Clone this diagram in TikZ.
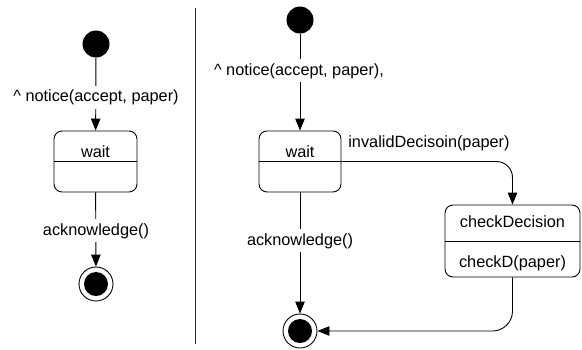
\documentclass[tikz,border=0pt]{standalone}
\usepackage{fontspec}
\setmainfont{Liberation Sans}
\usetikzlibrary{arrows.meta}
\begin{document}
\begin{tikzpicture}[x=1bp,y=-1bp,line width=0.9bp,
  every node/.style={font=\fontsize{16.3bp}{19bp}\selectfont},
  arr/.style={-{Triangle[length=12bp,width=9.5bp]}},
  initst/.style={circle,fill=black,minimum size=27bp,inner sep=0},
  finalst/.style={circle,draw,fill=white,minimum size=34bp,inner sep=0,
    path picture={\fill[black] (path picture bounding box.center) circle (12bp);}},
  statebox/.style={draw,rounded corners=8bp,inner sep=0},
  lbl/.style={fill=white,inner xsep=2bp,inner ysep=4bp,anchor=base},
  txt/.style={anchor=base,inner sep=0}]
\useasboundingbox (0,0) rectangle (582,349);

% left machine
\node[initst] (i1) at (96,44) {};
\node[statebox,minimum width=83bp,minimum height=61bp] (w1) at (95.5,161.5) {};
\draw (w1.west) -- (w1.east);
\node[txt] (t1) at (95.5,157) {wait};
\node[finalst] (f1) at (96,284) {};
\draw[arr] (i1) -- (w1);
\node[lbl] (n1) at (96,101.7) {\textasciicircum\ notice(accept, paper)};
\draw[arr] (w1) -- (f1);
\node[lbl] (a1) at (96,235) {acknowledge()};

% separator
\coordinate (s1) at (195.5,8);
\coordinate (s2) at (195.5,344);
\draw[black!85] (s1) -- (s2);

% right machine
\node[initst] (i2) at (300,20) {};
\node[statebox,minimum width=82bp,minimum height=61bp] (w2) at (300,161.5) {};
\draw (w2.west) -- (w2.east);
\node[txt] (t2) at (300,157) {wait};
\node[statebox,minimum width=135bp,minimum height=72bp] (c2) at (512.5,241) {};
\draw (c2.west) -- (c2.east);
\node[txt] (t3) at (512.5,227.5) {checkDecision};
\node[txt] (t4) at (512.5,267) {checkD(paper)};
\node[finalst] (f2) at (300,331) {};
\draw[arr] (i2) -- (w2);
\node[lbl] (n2) at (299,75) {\textasciicircum\ notice(accept, paper),};
\draw[arr] (w2) -- (f2);
\node[lbl] (a2) at (300,245) {acknowledge()};
\draw[arr,rounded corners=16bp] (w2.east) -| (c2.north);
\node[txt] (v2) at (429,147.5) {invalidDecisoin(paper)};
\draw[arr,rounded corners=20bp] (c2.south) |- (f2.east);
\end{tikzpicture}
\end{document}
